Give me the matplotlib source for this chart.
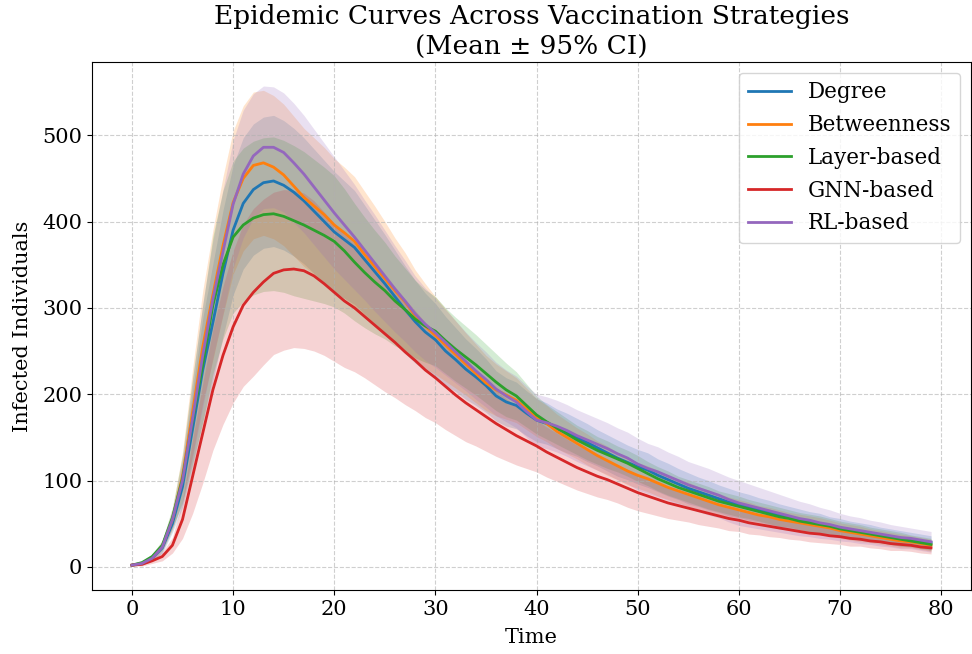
import matplotlib
matplotlib.use("Agg")
import matplotlib.pyplot as plt
import numpy as np

time = list(range(80))

labels = ["Degree", "Betweenness", "Layer-based", "GNN-based", "RL-based"]
colors = ["#1f77b4", "#ff7f0e", "#2ca02c", "#d62728", "#9467bd"]

degree_mean = [2, 4, 10, 22, 50, 93, 160, 228, 283, 340, 390, 421, 437, 445, 447, 442, 434, 424, 412, 400,
               388, 379, 370, 356, 342, 328, 313, 298, 284, 272, 263, 250, 240, 229, 220, 210, 198, 191, 187, 178,
               170, 166, 160, 155, 150, 144, 138, 132, 126, 121, 116, 112, 106, 101, 96, 91, 87, 83, 79, 75,
               72, 69, 66, 63, 60, 57, 55, 52, 50, 47, 45, 43, 41, 39, 37, 35, 33, 32, 30, 28]
degree_ci = [1, 2, 3, 6, 10, 24, 45, 60, 68, 73, 75, 76, 76, 76, 76, 75, 74, 73, 72, 71,
             70, 68, 66, 63, 60, 57, 54, 51, 48, 45, 42, 40, 37, 35, 33, 31, 29, 28, 27, 26,
             25, 24, 23, 23, 22, 22, 21, 21, 21, 20, 20, 20, 19, 19, 18, 18, 17, 17, 16, 16,
             15, 15, 14, 14, 13, 13, 12, 12, 12, 11, 11, 10, 10, 10, 9, 9, 9, 8, 8, 8]

betw_mean = [2, 4, 11, 24, 55, 105, 180, 255, 315, 372, 422, 450, 465, 468, 463, 454, 441, 428, 418, 408,
             396, 387, 377, 362, 348, 334, 320, 307, 291, 279, 268, 257, 246, 235, 224, 213, 205, 199, 193, 183,
             173, 166, 157, 150, 143, 136, 129, 123, 117, 111, 106, 102, 97, 92, 88, 84, 80, 76, 72, 69,
             66, 63, 60, 58, 55, 53, 51, 49, 47, 45, 42, 40, 38, 36, 34, 32, 30, 29, 27, 25]
betw_ci = [1, 2, 3, 6, 12, 28, 50, 65, 75, 80, 83, 84, 85, 84, 83, 82, 81, 80, 79, 78,
           77, 76, 75, 73, 70, 66, 61, 57, 53, 49, 45, 42, 39, 36, 34, 32, 30, 28, 26, 24,
           22, 21, 20, 19, 18, 18, 17, 17, 16, 16, 15, 15, 15, 14, 14, 14, 13, 13, 13, 12,
           12, 12, 11, 11, 11, 10, 10, 10, 10, 9, 9, 9, 9, 8, 8, 8, 8, 7, 7, 7]

layer_mean = [2, 5, 12, 25, 57, 102, 170, 235, 303, 350, 382, 396, 404, 408, 409, 406, 401, 396, 390, 384,
              377, 366, 353, 341, 330, 320, 308, 298, 287, 279, 273, 262, 252, 243, 234, 224, 214, 205, 198, 187,
              176, 168, 161, 154, 147, 141, 135, 130, 125, 120, 114, 108, 102, 97, 92, 88, 84, 80, 76, 73,
              70, 67, 64, 61, 58, 56, 53, 51, 49, 47, 44, 42, 40, 38, 36, 34, 32, 30, 28, 26]
layer_ci = [1, 2, 3, 6, 12, 28, 50, 68, 80, 86, 88, 89, 89, 89, 89, 88, 87, 85, 82, 79,
            76, 72, 68, 64, 60, 56, 52, 48, 45, 42, 40, 38, 37, 36, 35, 34, 33, 31, 28, 25,
            22, 20, 19, 18, 17, 17, 16, 16, 15, 15, 15, 14, 14, 14, 13, 13, 13, 13, 12, 12,
            12, 11, 11, 11, 11, 10, 10, 10, 10, 9, 9, 9, 9, 8, 8, 8, 8, 7, 7, 7]

gnn_mean = [2, 3, 7, 12, 25, 55, 105, 155, 205, 245, 278, 303, 318, 330, 340, 344, 345, 343, 337, 328,
            318, 308, 300, 290, 280, 270, 260, 249, 239, 228, 219, 209, 199, 190, 182, 174, 166, 159, 152, 146,
            140, 133, 127, 121, 115, 110, 105, 101, 96, 91, 86, 82, 78, 74, 71, 68, 65, 62, 59, 56,
            54, 51, 49, 47, 45, 43, 41, 39, 38, 36, 35, 33, 32, 30, 29, 27, 26, 25, 23, 22]
gnn_ci = [1, 2, 3, 5, 9, 22, 43, 58, 70, 80, 88, 94, 97, 96, 94, 93, 91, 90, 87, 83,
          80, 77, 74, 71, 69, 67, 64, 61, 58, 55, 52, 50, 47, 45, 42, 40, 38, 36, 34, 32,
          30, 29, 28, 27, 26, 25, 24, 23, 22, 22, 21, 20, 19, 18, 17, 16, 16, 15, 14, 14,
          13, 13, 12, 12, 11, 11, 10, 10, 10, 9, 9, 9, 8, 8, 8, 8, 7, 7, 7, 7]

rl_mean = [2, 4, 10, 23, 55, 100, 172, 245, 310, 365, 420, 455, 476, 486, 486, 480, 468, 455, 440, 425,
           410, 396, 382, 367, 352, 337, 322, 308, 293, 281, 271, 260, 249, 238, 227, 217, 206, 198, 191, 180,
           170, 167, 163, 158, 152, 147, 142, 137, 131, 126, 119, 114, 110, 105, 100, 95, 91, 87, 83, 78,
           74, 71, 68, 65, 62, 59, 56, 54, 51, 49, 46, 44, 42, 40, 38, 36, 34, 33, 31, 29]
rl_ci = [1, 2, 3, 6, 10, 25, 45, 60, 68, 72, 74, 74, 72, 71, 70, 69, 69, 68, 67, 66,
         65, 63, 61, 58, 56, 53, 50, 47, 44, 42, 40, 38, 36, 34, 33, 32, 31, 30, 30, 30,
         30, 30, 30, 30, 30, 30, 30, 30, 30, 30, 30, 29, 29, 28, 28, 27, 27, 27, 26, 26,
         26, 25, 24, 23, 22, 21, 20, 19, 18, 17, 16, 15, 15, 14, 14, 13, 13, 12, 12, 12]

means = [degree_mean, betw_mean, layer_mean, gnn_mean, rl_mean]
cis = [degree_ci, betw_ci, layer_ci, gnn_ci, rl_ci]

plt.rcParams["font.family"] = ["DejaVu Serif"]

fig = plt.figure(figsize=(9.72, 6.54), dpi=100)
ax = fig.add_axes([92 / 972, 64 / 654, (971 - 92) / 972, (590 - 62) / 654])

t = np.array(time)
for lab, col, m, c in zip(labels, colors, means, cis):
    m = np.array(m, dtype=float)
    c = np.array(c, dtype=float)
    ax.plot(t, m, color=col, lw=2, label=lab)
    ax.fill_between(t, m - c, m + c, color=col, alpha=0.2, linewidth=0)

ax.set_xticks(range(0, 81, 10))
ax.set_yticks(range(0, 501, 100))
ax.tick_params(labelsize=15)
ax.set_xlabel("Time", fontsize=15, labelpad=7)
ax.set_ylabel("Infected Individuals", fontsize=15, labelpad=7)
ax.set_title("Epidemic Curves Across Vaccination Strategies\n(Mean \u00b1 95% CI)", fontsize=19,
             pad=5, linespacing=1.3)
ax.grid(True, linestyle="--", alpha=0.6)
ax.legend(loc="upper right", fontsize=15.5)

fig.savefig("out.png", dpi=100)
